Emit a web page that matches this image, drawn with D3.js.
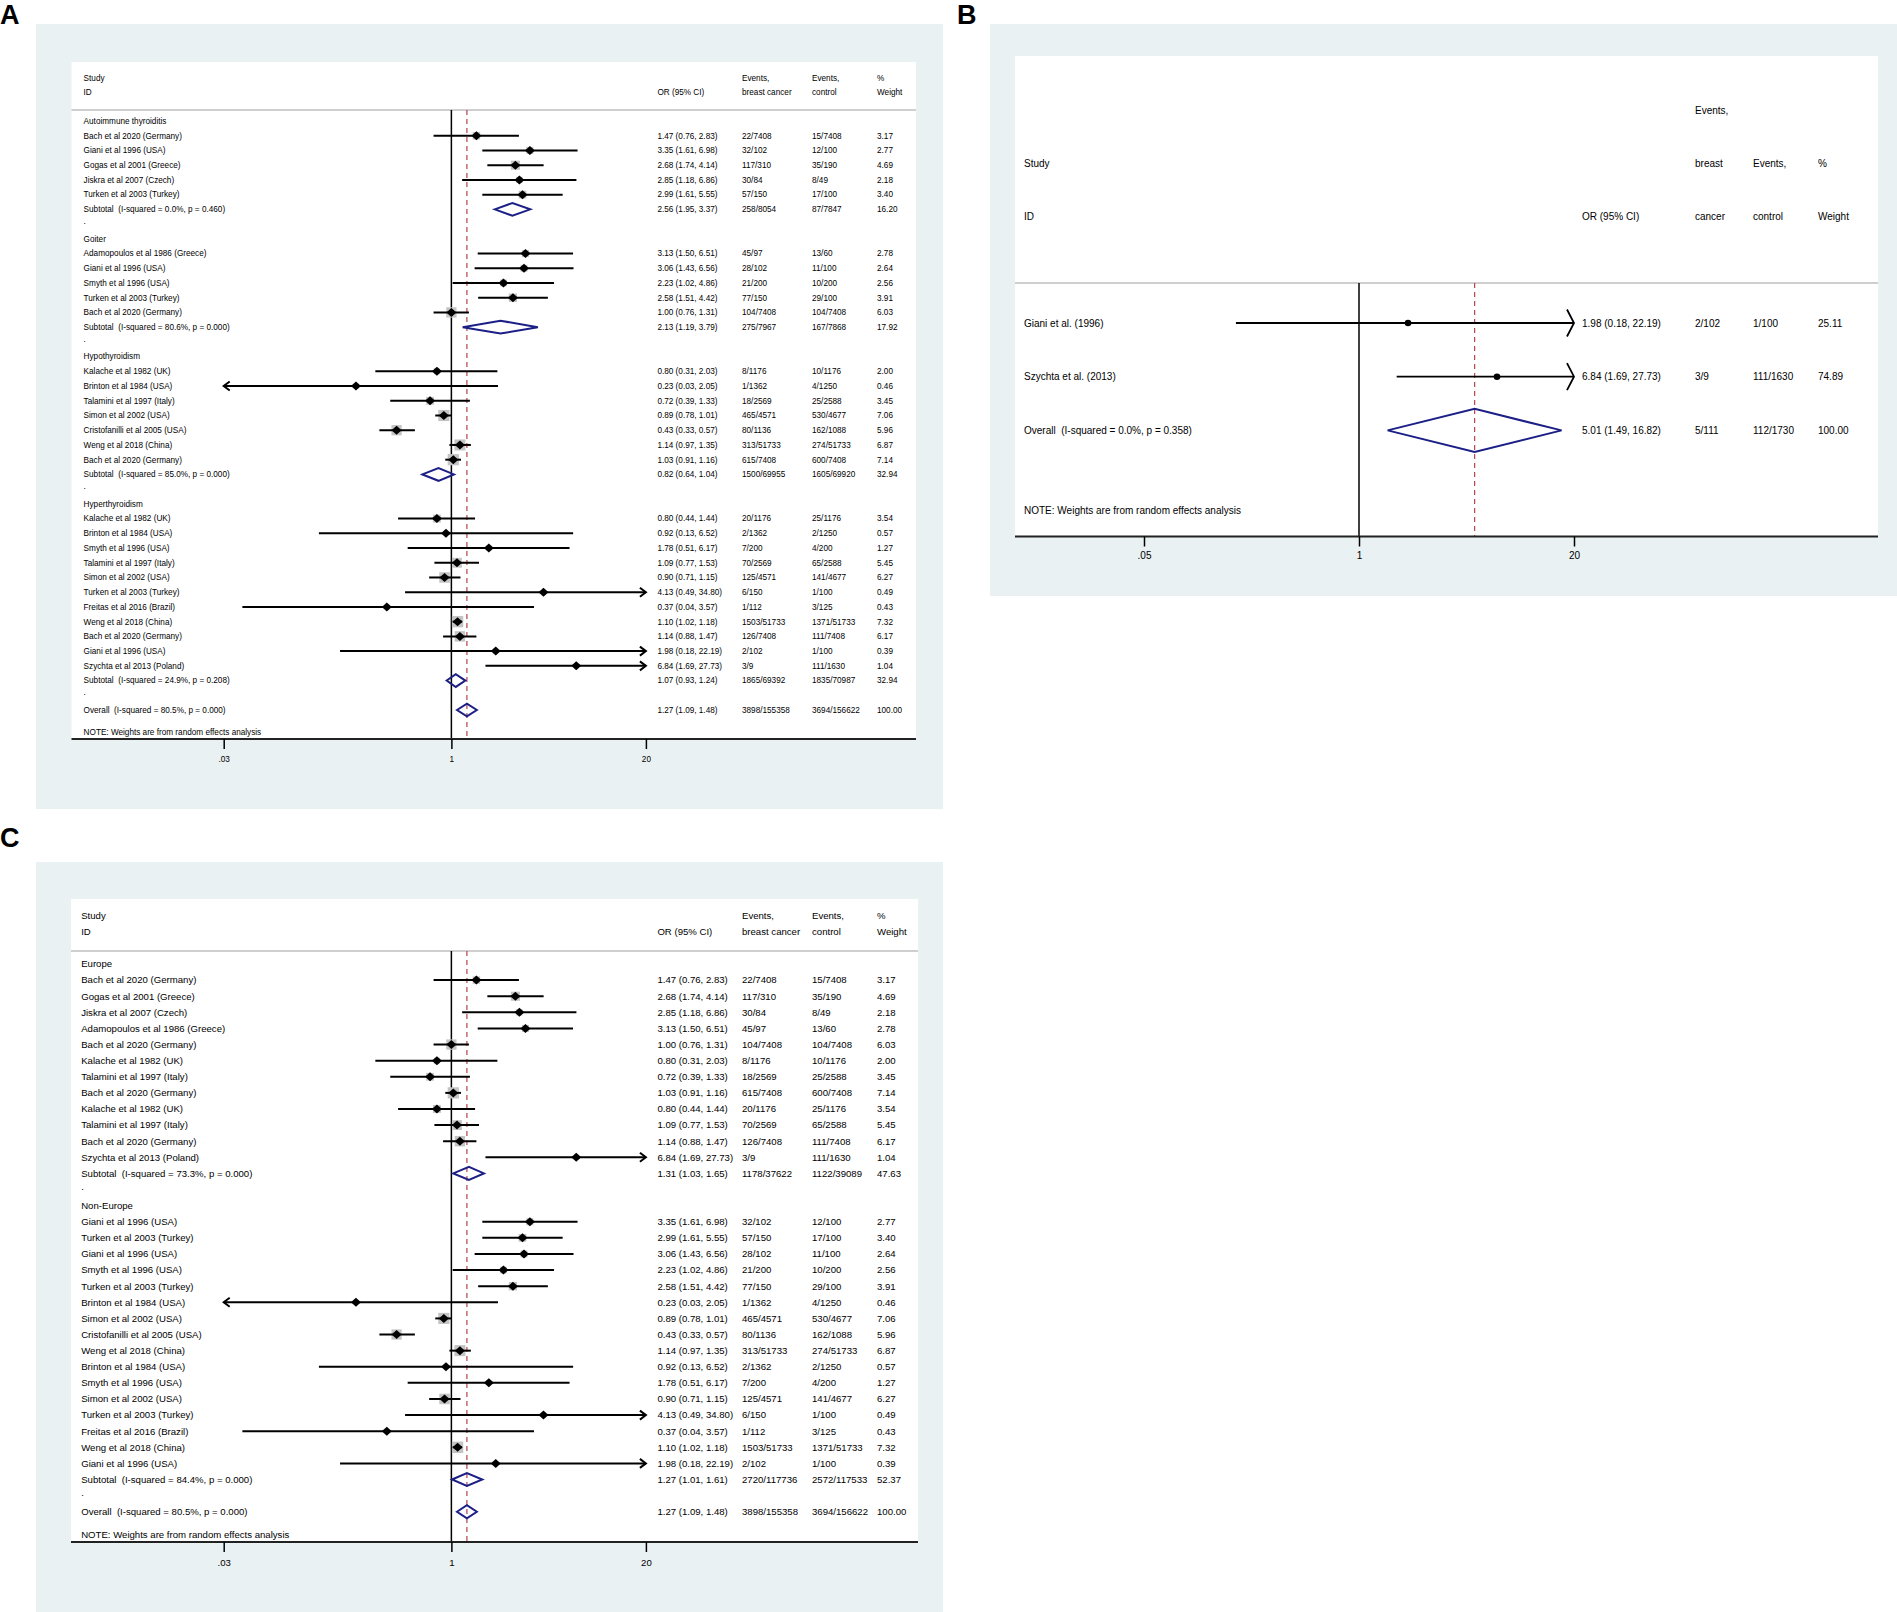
<!DOCTYPE html>
<html>
<head>
<meta charset="utf-8">
<script src="https://cdn.jsdelivr.net/npm/d3@7"></script>
<style>
body { margin: 0; background: #fff; }
svg text { font-family: "Liberation Sans", Arial, sans-serif; fill: #000; white-space: pre; }
</style>
</head>
<body>
<svg id="fig" width="1897" height="1612"></svg>
<script>
// rows: study, OR, lower, upper, events breast cancer, events control, % weight
var autoStudies = [
  ["Bach et al 2020 (Germany)", 1.47, 0.76, 2.83, "22/7408", "15/7408", 3.17],
  ["Giani et al 1996 (USA)", 3.35, 1.61, 6.98, "32/102", "12/100", 2.77],
  ["Gogas et al 2001 (Greece)", 2.68, 1.74, 4.14, "117/310", "35/190", 4.69],
  ["Jiskra et al 2007 (Czech)", 2.85, 1.18, 6.86, "30/84", "8/49", 2.18],
  ["Turken et al 2003 (Turkey)", 2.99, 1.61, 5.55, "57/150", "17/100", 3.40]
];
var autoSub = ["Subtotal  (I-squared = 0.0%, p = 0.460)", 2.56, 1.95, 3.37, "258/8054", "87/7847", 16.20];

var goiterStudies = [
  ["Adamopoulos et al 1986 (Greece)", 3.13, 1.50, 6.51, "45/97", "13/60", 2.78],
  ["Giani et al 1996 (USA)", 3.06, 1.43, 6.56, "28/102", "11/100", 2.64],
  ["Smyth et al 1996 (USA)", 2.23, 1.02, 4.86, "21/200", "10/200", 2.56],
  ["Turken et al 2003 (Turkey)", 2.58, 1.51, 4.42, "77/150", "29/100", 3.91],
  ["Bach et al 2020 (Germany)", 1.00, 0.76, 1.31, "104/7408", "104/7408", 6.03]
];
var goiterSub = ["Subtotal  (I-squared = 80.6%, p = 0.000)", 2.13, 1.19, 3.79, "275/7967", "167/7868", 17.92];

var hypoStudies = [
  ["Kalache et al 1982 (UK)", 0.80, 0.31, 2.03, "8/1176", "10/1176", 2.00],
  ["Brinton et al 1984 (USA)", 0.23, 0.03, 2.05, "1/1362", "4/1250", 0.46],
  ["Talamini et al 1997 (Italy)", 0.72, 0.39, 1.33, "18/2569", "25/2588", 3.45],
  ["Simon et al 2002 (USA)", 0.89, 0.78, 1.01, "465/4571", "530/4677", 7.06],
  ["Cristofanilli et al 2005 (USA)", 0.43, 0.33, 0.57, "80/1136", "162/1088", 5.96],
  ["Weng et al 2018 (China)", 1.14, 0.97, 1.35, "313/51733", "274/51733", 6.87],
  ["Bach et al 2020 (Germany)", 1.03, 0.91, 1.16, "615/7408", "600/7408", 7.14]
];
var hypoSub = ["Subtotal  (I-squared = 85.0%, p = 0.000)", 0.82, 0.64, 1.04, "1500/69955", "1605/69920", 32.94];

var hyperStudies = [
  ["Kalache et al 1982 (UK)", 0.80, 0.44, 1.44, "20/1176", "25/1176", 3.54],
  ["Brinton et al 1984 (USA)", 0.92, 0.13, 6.52, "2/1362", "2/1250", 0.57],
  ["Smyth et al 1996 (USA)", 1.78, 0.51, 6.17, "7/200", "4/200", 1.27],
  ["Talamini et al 1997 (Italy)", 1.09, 0.77, 1.53, "70/2569", "65/2588", 5.45],
  ["Simon et al 2002 (USA)", 0.90, 0.71, 1.15, "125/4571", "141/4677", 6.27],
  ["Turken et al 2003 (Turkey)", 4.13, 0.49, 34.80, "6/150", "1/100", 0.49],
  ["Freitas et al 2016 (Brazil)", 0.37, 0.04, 3.57, "1/112", "3/125", 0.43],
  ["Weng et al 2018 (China)", 1.10, 1.02, 1.18, "1503/51733", "1371/51733", 7.32],
  ["Bach et al 2020 (Germany)", 1.14, 0.88, 1.47, "126/7408", "111/7408", 6.17],
  ["Giani et al 1996 (USA)", 1.98, 0.18, 22.19, "2/102", "1/100", 0.39],
  ["Szychta et al 2013 (Poland)", 6.84, 1.69, 27.73, "3/9", "111/1630", 1.04]
];
var hyperSub = ["Subtotal  (I-squared = 24.9%, p = 0.208)", 1.07, 0.93, 1.24, "1865/69392", "1835/70987", 32.94];

var europeStudies = [
  ["Bach et al 2020 (Germany)", 1.47, 0.76, 2.83, "22/7408", "15/7408", 3.17],
  ["Gogas et al 2001 (Greece)", 2.68, 1.74, 4.14, "117/310", "35/190", 4.69],
  ["Jiskra et al 2007 (Czech)", 2.85, 1.18, 6.86, "30/84", "8/49", 2.18],
  ["Adamopoulos et al 1986 (Greece)", 3.13, 1.50, 6.51, "45/97", "13/60", 2.78],
  ["Bach et al 2020 (Germany)", 1.00, 0.76, 1.31, "104/7408", "104/7408", 6.03],
  ["Kalache et al 1982 (UK)", 0.80, 0.31, 2.03, "8/1176", "10/1176", 2.00],
  ["Talamini et al 1997 (Italy)", 0.72, 0.39, 1.33, "18/2569", "25/2588", 3.45],
  ["Bach et al 2020 (Germany)", 1.03, 0.91, 1.16, "615/7408", "600/7408", 7.14],
  ["Kalache et al 1982 (UK)", 0.80, 0.44, 1.44, "20/1176", "25/1176", 3.54],
  ["Talamini et al 1997 (Italy)", 1.09, 0.77, 1.53, "70/2569", "65/2588", 5.45],
  ["Bach et al 2020 (Germany)", 1.14, 0.88, 1.47, "126/7408", "111/7408", 6.17],
  ["Szychta et al 2013 (Poland)", 6.84, 1.69, 27.73, "3/9", "111/1630", 1.04]
];
var europeSub = ["Subtotal  (I-squared = 73.3%, p = 0.000)", 1.31, 1.03, 1.65, "1178/37622", "1122/39089", 47.63];

var nonEuropeStudies = [
  ["Giani et al 1996 (USA)", 3.35, 1.61, 6.98, "32/102", "12/100", 2.77],
  ["Turken et al 2003 (Turkey)", 2.99, 1.61, 5.55, "57/150", "17/100", 3.40],
  ["Giani et al 1996 (USA)", 3.06, 1.43, 6.56, "28/102", "11/100", 2.64],
  ["Smyth et al 1996 (USA)", 2.23, 1.02, 4.86, "21/200", "10/200", 2.56],
  ["Turken et al 2003 (Turkey)", 2.58, 1.51, 4.42, "77/150", "29/100", 3.91],
  ["Brinton et al 1984 (USA)", 0.23, 0.03, 2.05, "1/1362", "4/1250", 0.46],
  ["Simon et al 2002 (USA)", 0.89, 0.78, 1.01, "465/4571", "530/4677", 7.06],
  ["Cristofanilli et al 2005 (USA)", 0.43, 0.33, 0.57, "80/1136", "162/1088", 5.96],
  ["Weng et al 2018 (China)", 1.14, 0.97, 1.35, "313/51733", "274/51733", 6.87],
  ["Brinton et al 1984 (USA)", 0.92, 0.13, 6.52, "2/1362", "2/1250", 0.57],
  ["Smyth et al 1996 (USA)", 1.78, 0.51, 6.17, "7/200", "4/200", 1.27],
  ["Simon et al 2002 (USA)", 0.90, 0.71, 1.15, "125/4571", "141/4677", 6.27],
  ["Turken et al 2003 (Turkey)", 4.13, 0.49, 34.80, "6/150", "1/100", 0.49],
  ["Freitas et al 2016 (Brazil)", 0.37, 0.04, 3.57, "1/112", "3/125", 0.43],
  ["Weng et al 2018 (China)", 1.10, 1.02, 1.18, "1503/51733", "1371/51733", 7.32],
  ["Giani et al 1996 (USA)", 1.98, 0.18, 22.19, "2/102", "1/100", 0.39]
];
var nonEuropeSub = ["Subtotal  (I-squared = 84.4%, p = 0.000)", 1.27, 1.01, 1.61, "2720/117736", "2572/117533", 52.37];

var overallAll = ["Overall  (I-squared = 80.5%, p = 0.000)", 1.27, 1.09, 1.48, "3898/155358", "3694/156622", 100.00];

var hyperTwoStudies = [
  ["Giani et al. (1996)", 1.98, 0.18, 22.19, "2/102", "1/100", 25.11],
  ["Szychta et al. (2013)", 6.84, 1.69, 27.73, "3/9", "111/1630", 74.89]
];
var hyperTwoOverall = ["Overall  (I-squared = 0.0%, p = 0.358)", 5.01, 1.49, 16.82, "5/111", "112/1730", 100.00];

var ticksAC = [0.03, 1, 20];
var tickLabelsAC = [".03", "1", "20"];
var ticksB = [0.05, 1, 20];
var tickLabelsB = [".05", "1", "20"];

var headTwoLine = [["name", 0, "Study"], ["name", 1, "ID"], ["or", 1, "OR (95% CI)"],
  ["evA", 0, "Events,"], ["evA", 1, "breast cancer"], ["evB", 0, "Events,"], ["evB", 1, "control"],
  ["wt", 0, "%"], ["wt", 1, "Weight"]];
var headThreeLine = [["name", 1, "Study"], ["name", 2, "ID"], ["or", 2, "OR (95% CI)"],
  ["evA", 0, "Events,"], ["evA", 1, "breast"], ["evA", 2, "cancer"], ["evB", 1, "Events,"], ["evB", 2, "control"],
  ["wt", 1, "%"], ["wt", 2, "Weight"]];
var noteText = "NOTE: Weights are from random effects analysis";

var svg = d3.select("#fig");

function groupRows(groups, overall) {
  var rows = [];
  groups.forEach(function(gr) {
    rows.push({type: "head", label: gr[0]});
    gr[1].forEach(function(s) { rows.push({type: "study", d: s}); });
    rows.push({type: "sub", d: gr[2]});
    rows.push({type: "dot"});
  });
  rows.push({type: "sub", d: overall});
  return rows;
}

function fmtCI(d) {
  return d[1].toFixed(2) + " (" + d[2].toFixed(2) + ", " + d[3].toFixed(2) + ")";
}

function drawPanel(p) {
  var g = svg.append("g");
  var fs = p.font;

  g.append("text")
    .text(p.label)
    .attr("x", p.labelX)
    .attr("y", p.labelY)
    .style("font-size", "27px")
    .style("font-weight", "bold");

  g.append("rect")
    .attr("x", p.bg[0]).attr("y", p.bg[1])
    .attr("width", p.bg[2]).attr("height", p.bg[3])
    .attr("fill", "#eaf1f3");

  var left = p.plot[0], top = p.plot[1], right = p.plot[2], bottom = p.plot[3];
  g.append("rect")
    .attr("x", left).attr("y", top)
    .attr("width", right - left).attr("height", bottom - top)
    .attr("fill", "#fff");

  var x = d3.scaleLog().domain(p.domain).range(p.range);

  // header
  p.head.forEach(function(h) {
    g.append("text")
      .text(h[2])
      .attr("x", p.cols[h[0]])
      .attr("y", p.headY[h[1]])
      .attr("dy", "0.35em")
      .style("font-size", fs + "px");
  });

  g.append("line")
    .attr("x1", left).attr("x2", right)
    .attr("y1", p.sepY).attr("y2", p.sepY)
    .attr("stroke", "#cfcfcf")
    .attr("stroke-width", 2);

  // reference lines
  g.append("line")
    .attr("x1", x(1)).attr("x2", x(1))
    .attr("y1", p.sepY).attr("y2", bottom)
    .attr("stroke", "#000")
    .attr("stroke-width", 1.5);

  g.append("line")
    .attr("x1", x(p.pooled)).attr("x2", x(p.pooled))
    .attr("y1", p.sepY).attr("y2", bottom)
    .attr("stroke", "#b3434d")
    .attr("stroke-width", 1.2)
    .attr("stroke-dasharray", "5,4");

  p.rows.forEach(function(r, i) {
    var y = p.y0 + i * p.step;
    if (r.type == "head") {
      g.append("text").text(r.label)
        .attr("x", p.cols.name).attr("y", y).attr("dy", "0.35em")
        .style("font-size", fs + "px");
      return;
    }
    if (r.type == "dot") {
      g.append("text").text(".")
        .attr("x", p.cols.name).attr("y", y - 3).attr("dy", "0.35em")
        .style("font-size", fs + "px");
      return;
    }
    var d = r.d;
    if (r.type == "study") {
      if (p.boxK > 0) {
        var s = p.boxK * Math.sqrt(d[6]);
        g.append("rect")
          .attr("x", x(d[1]) - s / 2).attr("y", y - s / 2)
          .attr("width", s).attr("height", s)
          .attr("fill", "#c4c4c4");
      }
      var lo = Math.max(d[2], p.domain[0]);
      var hi = Math.min(d[3], p.domain[1]);
      g.append("line")
        .attr("x1", x(lo)).attr("x2", x(hi))
        .attr("y1", y).attr("y2", y)
        .attr("stroke", "#000")
        .attr("stroke-width", p.ciW);
      if (d[2] <= p.domain[0] * 1.001) {
        g.append("path")
          .attr("d", "M" + (x(lo) + p.arrL) + "," + (y - p.arrH) + "L" + x(lo) + "," + y + "L" + (x(lo) + p.arrL) + "," + (y + p.arrH))
          .attr("fill", "none").attr("stroke", "#000").attr("stroke-width", p.ciW);
      }
      if (d[3] > p.domain[1]) {
        g.append("path")
          .attr("d", "M" + (x(hi) - p.arrL) + "," + (y - p.arrH) + "L" + x(hi) + "," + y + "L" + (x(hi) - p.arrL) + "," + (y + p.arrH))
          .attr("fill", "none").attr("stroke", "#000").attr("stroke-width", p.ciW);
      }
      if (p.marker == "dot") {
        g.append("circle")
          .attr("cx", x(d[1])).attr("cy", y).attr("r", 3.3)
          .attr("fill", "#000");
      } else {
        var cx = x(d[1]);
        g.append("path")
          .attr("d", "M" + (cx - 5) + "," + y + "L" + cx + "," + (y - 4.5) + "L" + (cx + 5) + "," + y + "L" + cx + "," + (y + 4.5) + "Z")
          .attr("fill", "#000");
      }
    } else {
      g.append("path")
        .attr("d", "M" + x(d[2]) + "," + y + "L" + x(d[1]) + "," + (y - p.dh) + "L" + x(d[3]) + "," + y + "L" + x(d[1]) + "," + (y + p.dh) + "Z")
        .attr("fill", "none")
        .attr("stroke", "#1b1f86")
        .attr("stroke-width", 2);
    }
    var cells = [["name", d[0]], ["or", fmtCI(d)], ["evA", d[4]], ["evB", d[5]], ["wt", d[6].toFixed(2)]];
    cells.forEach(function(c) {
      g.append("text").text(c[1])
        .attr("x", p.cols[c[0]]).attr("y", y).attr("dy", "0.35em")
        .style("font-size", fs + "px");
    });
  });

  g.append("text").text(noteText)
    .attr("x", p.cols.name).attr("y", p.noteY).attr("dy", "0.35em")
    .style("font-size", fs + "px");

  // x axis
  g.append("line")
    .attr("x1", left).attr("x2", right)
    .attr("y1", bottom).attr("y2", bottom)
    .attr("stroke", "#222")
    .attr("stroke-width", 2);

  var ax = g.append("g")
    .attr("transform", "translate(0," + bottom + ")")
    .call(d3.axisBottom(x)
      .tickValues(p.ticks)
      .tickFormat(function(v, i) { return p.tickLabels[i]; })
      .tickSize(10)
      .tickPadding(p.tickPad));
  ax.select(".domain").remove();
  ax.selectAll(".tick line").attr("stroke", "#000").attr("stroke-width", 1.5);
  ax.selectAll(".tick text")
    .style("font-size", fs + "px")
    .style("font-family", "'Liberation Sans', Arial, sans-serif");
}

// A: by thyroid disease
drawPanel({
  label: "A", labelX: 0, labelY: 24,
  bg: [36, 24, 907, 785],
  plot: [71.5, 62, 916, 739],
  headY: [78, 92], sepY: 110, head: headTwoLine,
  cols: {name: 83.6, or: 657.4, evA: 742, evB: 812, wt: 877},
  rows: groupRows([["Autoimmune thyroiditis", autoStudies, autoSub],
                   ["Goiter", goiterStudies, goiterSub],
                   ["Hypothyroidism", hypoStudies, hypoSub],
                   ["Hyperthyroidism", hyperStudies, hyperSub]], overallAll),
  y0: 121, step: 14.725, noteY: 732, font: 8.2,
  domain: [0.03, 20], range: [223.7, 645.9], pooled: overallAll[1],
  ticks: ticksAC, tickLabels: tickLabelsAC, tickPad: 7,
  marker: "diamond", boxK: 4.2, ciW: 2, arrL: 6, arrH: 4.5, dh: 6.4
});

// B: hyperthyroidism, two studies
drawPanel({
  label: "B", labelX: 957, labelY: 24,
  bg: [990, 24, 907, 572],
  plot: [1015, 56, 1878, 536.5],
  headY: [110, 163, 216.5], sepY: 283, head: headThreeLine,
  cols: {name: 1024, or: 1582, evA: 1695, evB: 1753, wt: 1818},
  rows: hyperTwoStudies.map(function(s) { return {type: "study", d: s}; })
          .concat([{type: "sub", d: hyperTwoOverall}]),
  y0: 323, step: 53.7, noteY: 510, font: 10,
  domain: [0.05, 20], range: [1144, 1574], pooled: hyperTwoOverall[1],
  ticks: ticksB, tickLabels: tickLabelsB, tickPad: 5,
  marker: "dot", boxK: 0, ciW: 1.8, arrL: 7, arrH: 13.5, dh: 21.5
});

// C: by region
drawPanel({
  label: "C", labelX: 0, labelY: 847,
  bg: [36, 862, 907, 750],
  plot: [71, 899, 918, 1542],
  headY: [916, 932], sepY: 951, head: headTwoLine,
  cols: {name: 81.2, or: 657.4, evA: 742, evB: 812, wt: 877},
  rows: groupRows([["Europe", europeStudies, europeSub],
                   ["Non-Europe", nonEuropeStudies, nonEuropeSub]], overallAll),
  y0: 964, step: 16.11, noteY: 1535, font: 9.6,
  domain: [0.03, 20], range: [223.7, 645.9], pooled: overallAll[1],
  ticks: ticksAC, tickLabels: tickLabelsAC, tickPad: 7,
  marker: "diamond", boxK: 4.2, ciW: 2, arrL: 6, arrH: 4.5, dh: 6.5
});
</script>
</body>
</html>
